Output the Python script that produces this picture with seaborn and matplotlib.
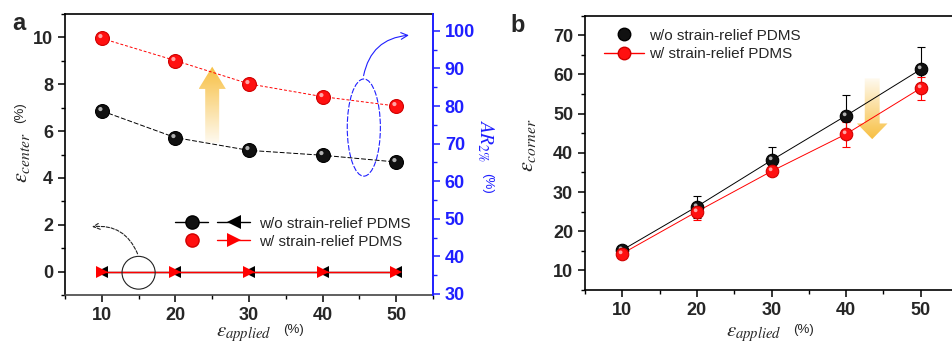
import numpy as np
import matplotlib
matplotlib.use("Agg")
import matplotlib.pyplot as plt
import seaborn as sns
from matplotlib.path import Path
from matplotlib.patches import Ellipse, FancyArrow
from matplotlib.lines import Line2D
from matplotlib.legend_handler import HandlerTuple
from matplotlib.ticker import MultipleLocator

# ---------------- data ----------------
strain = [10, 20, 30, 40, 50]
ar_wo = [78.7, 71.6, 68.2, 66.9, 65.1]       # AR2% w/o strain-relief PDMS (right axis)
ar_w = [98.0, 92.1, 85.9, 82.5, 80.0]        # AR2% w/ strain-relief PDMS (right axis)
center_wo = [0.0, 0.0, 0.0, 0.0, 0.0]        # eps_center w/o
center_w = [0.0, 0.0, 0.0, 0.0, 0.0]         # eps_center w/
corner_wo = [15.2, 26.3, 38.1, 49.5, 61.3]
corner_wo_err = [0.6, 2.8, 3.3, 5.2, 5.7]
corner_w = [14.3, 25.0, 35.3, 44.8, 56.5]
corner_w_err = [0.8, 2.2, 0.8, 3.2, 2.9]
label_wo = "w/o strain-relief PDMS"
label_w = "w/ strain-relief PDMS"

sns.set_theme(style="ticks")
plt.rcParams["font.family"] = ["Liberation Sans", "DejaVu Sans"]
plt.rcParams["mathtext.fontset"] = "stix"

W, H = 952, 342
fig = plt.figure(figsize=(W / 100, H / 100), dpi=100)

def fr(x0, y0, x1, y1):
    return [x0 / W, 1 - y1 / H, (x1 - x0) / W, (y1 - y0) / H]

axa = fig.add_axes(fr(65, 14, 433, 295))
axb = fig.add_axes(fr(585, 15.7, 958, 290))

# highlight marker path (offset small circle)
HL = Path.make_compound_path(Path([[1.0, 1.0]], [Path.MOVETO]),
                             Path.circle((-0.3, 0.35), 0.3))

def spheres(ax, x, y, color, edge, hl, ms, z):
    sns.lineplot(x=x, y=y, ax=ax, marker="o", markersize=ms, color=color,
                 markeredgecolor=edge, markeredgewidth=0.8, linestyle="none",
                 zorder=z, legend=False)
    sns.lineplot(x=x, y=y, ax=ax, marker=HL, markersize=ms, color=hl,
                 markeredgewidth=0, linestyle="none", alpha=0.85,
                 zorder=z + 0.1, legend=False)

BLUE = "#1f1fff"
ORANGE = np.array([0.97, 0.74, 0.22])

# ---------------- panel a ----------------
ax2 = axa.twinx()
sns.lineplot(x=strain, y=center_wo, ax=axa, color="black", lw=1.0, marker="<",
             markersize=8.5, markeredgewidth=0, zorder=3, legend=False)
sns.lineplot(x=strain, y=center_w, ax=axa, color="red", lw=1.0, marker=">",
             markersize=8.5, markeredgewidth=0, zorder=4, legend=False)

sns.lineplot(x=strain, y=ar_wo, ax=ax2, color="black", lw=0.7,
             linestyle=(0, (5, 2)), zorder=2, legend=False)
sns.lineplot(x=strain, y=ar_w, ax=ax2, color="red", lw=0.7,
             linestyle=(0, (3, 2)), zorder=2, legend=False)
spheres(ax2, strain, ar_wo, "#111111", "#000000", "#d0d0d0", 10, 5)
spheres(ax2, strain, ar_w, "#ff1010", "#d00000", "#ffc0c0", 10, 5)

axa.set_xlabel("")
axa.set_ylabel("")
ax2.set_ylabel("")

for a in (axa, axb):
    for s in a.spines.values():
        s.set_linewidth(1.2)
        s.set_color("black")
    a.tick_params(which="major", direction="out", length=5, width=1.1,
                  labelsize=13, color="black")
    a.tick_params(which="minor", direction="out", length=3, width=1.0,
                  color="black")

axa.spines["bottom"].set_color("#444444")
axa.spines["right"].set_visible(False)
ax2.spines["right"].set_color(BLUE)
ax2.spines["right"].set_linewidth(1.4)
for k in ("left", "top", "bottom"):
    ax2.spines[k].set_visible(False)
ax2.tick_params(axis="y", which="major", direction="out", length=5, width=1.1,
                labelsize=13, colors=BLUE)
ax2.tick_params(axis="y", which="minor", direction="out", length=3, width=1.0,
                colors=BLUE)

# gradient arrow helper
def grad_arrow(ax, x, y, dy, width, hw, hl, up):
    arr = FancyArrow(x, y, 0, dy, width=width, head_width=hw, head_length=hl,
                     length_includes_head=True, facecolor="none",
                     edgecolor="none")
    ax.add_patch(arr)
    n = 128
    g = np.ones((n, 1, 4))
    g[:, 0, :3] = ORANGE
    alpha = np.linspace(0.95, 0.08, n)
    if not up:
        alpha = alpha[::-1]
    g[:, 0, 3] = alpha
    y0, y1 = min(y, y + dy), max(y, y + dy)
    im = ax.imshow(g, extent=(x - hw / 2, x + hw / 2, y0, y1), aspect="auto",
                   origin="upper", zorder=1, interpolation="bilinear")
    im.set_clip_path(arr)

grad_arrow(axa, 25, 5.5, 3.25, 1.9, 3.7, 0.95, True)

axa.set_xlim(5, 55)
axa.set_ylim(-1, 11)
ax2.set_ylim(29.7, 104.5)
axa.xaxis.set_major_locator(MultipleLocator(10))
axa.xaxis.set_minor_locator(MultipleLocator(5))
axa.yaxis.set_major_locator(MultipleLocator(2))
axa.yaxis.set_minor_locator(MultipleLocator(1))
ax2.yaxis.set_major_locator(MultipleLocator(10))
ax2.yaxis.set_minor_locator(MultipleLocator(5))

axa.add_patch(Ellipse((15, -0.05), 4.5, 1.4, fill=False, edgecolor="#222222",
                      lw=0.8, zorder=6))
axa.annotate("", xy=(8.3, 1.9), xytext=(15, 0.65),
             arrowprops=dict(arrowstyle="->", color="#222222", lw=0.8,
                             linestyle=(0, (3, 1.5)),
                             connectionstyle="arc3,rad=0.4"))
axa.add_patch(Ellipse((45.6, 6.15), 4.5, 4.15, fill=False, edgecolor=BLUE,
                      lw=0.8, linestyle=(0, (5, 1.5)), zorder=6))
axa.annotate("", xy=(52.1, 10.1), xytext=(45.5, 8.25), annotation_clip=False,
             arrowprops=dict(arrowstyle="->", color=BLUE, lw=0.8,
                             connectionstyle="arc3,rad=-0.4"))

hb_s = Line2D([], [], color="black", lw=1.0, marker="o", markersize=9.5,
              markerfacecolor="#111111")
hb_t = Line2D([], [], color="black", lw=1.0, marker="<", markersize=9.5,
              markeredgewidth=0)
hr_s = Line2D([], [], color="none", lw=1.0, marker="o", markersize=9.5,
              markerfacecolor="#ff1010", markeredgecolor="#d00000")
hr_t = Line2D([], [], color="red", lw=1.0, marker=">", markersize=9.5,
              markeredgewidth=0)
axa.legend([(hb_s, hb_t), (hr_s, hr_t)], [label_wo, label_w],
           handler_map={tuple: HandlerTuple(ndivide=None, pad=0.6)},
           handlelength=4.9, handletextpad=0.55,
           prop={"size": 11}, frameon=False, borderpad=0,
           loc="lower left", bbox_to_anchor=(0.30, 0.165), labelspacing=0.25,
           borderaxespad=0)

# ---------------- panel b ----------------
axb.errorbar(strain, corner_wo, yerr=corner_wo_err, fmt="none", ecolor="black",
             elinewidth=0.8, capsize=3, capthick=0.8, zorder=2)
axb.errorbar(strain, corner_w, yerr=corner_w_err, fmt="none", ecolor="red",
             elinewidth=0.8, capsize=3, capthick=0.8, zorder=2)
sns.lineplot(x=strain, y=corner_wo, ax=axb, color="black", lw=0.7, zorder=3,
             legend=False)
sns.lineplot(x=strain, y=corner_w, ax=axb, color="red", lw=0.7, zorder=3,
             legend=False)
spheres(axb, strain, corner_wo, "#111111", "#000000", "#d0d0d0", 9, 5)
spheres(axb, strain, corner_w, "#ff1010", "#d00000", "#ffc0c0", 9, 6)
grad_arrow(axb, 43.5, 59, -15.5, 2.0, 4.1, 4.0, False)

axb.set_xlim(5, 55)
axb.set_ylim(5, 75)
axb.xaxis.set_major_locator(MultipleLocator(10))
axb.xaxis.set_minor_locator(MultipleLocator(5))
axb.yaxis.set_major_locator(MultipleLocator(10))
axb.yaxis.set_minor_locator(MultipleLocator(5))
axb.set_xlabel("")
axb.set_ylabel("")
axb.spines["right"].set_visible(False)

lb_s = Line2D([], [], color="none", marker="o", markersize=9,
              markerfacecolor="#111111", markeredgecolor="black")
lr_s = Line2D([], [], color="red", lw=1.0, marker="o", markersize=9,
              markerfacecolor="#ff1010", markeredgecolor="#d00000")
axb.legend([lb_s, lr_s], [label_wo, label_w],
           prop={"size": 11}, frameon=False,
           loc="upper left", bbox_to_anchor=(0.035, 0.975), handlelength=2.6,
           handletextpad=0.35, labelspacing=0.3, borderaxespad=0)

# ---------------- labels ----------------
def ft(x, y, s, **kw):
    fig.text(x / W, 1 - y / H, s, ha="center", va="center", **kw)

ft(22, 157, r"$\varepsilon_{center}$", fontsize=16, rotation=90)
ft(20, 113, "(%)", fontsize=9.5, rotation=90)
ft(244, 334, r"$\varepsilon_{applied}$", fontsize=15)
ft(293, 330, "(%)", fontsize=9.5)
ft(485, 141, r"$AR_{2\%}$", fontsize=14, rotation=-90, color=BLUE)
ft(487, 183, "(%)", fontsize=9.5, rotation=-90, color=BLUE)
ft(527, 145, r"$\varepsilon_{corner}$", fontsize=16, rotation=90)
ft(754, 334, r"$\varepsilon_{applied}$", fontsize=15)
ft(804, 330, "(%)", fontsize=9.5)
ft(19, 24, "a", fontsize=17, fontweight="bold")
ft(518, 26, "b", fontsize=17, fontweight="bold")

# bold tick labels (set after the tick objects exist)
fig.canvas.draw()
for a in (axa, ax2, axb):
    for lab in a.get_xticklabels() + a.get_yticklabels():
        lab.set_fontweight("bold")

fig.savefig("out.png", dpi=100)
